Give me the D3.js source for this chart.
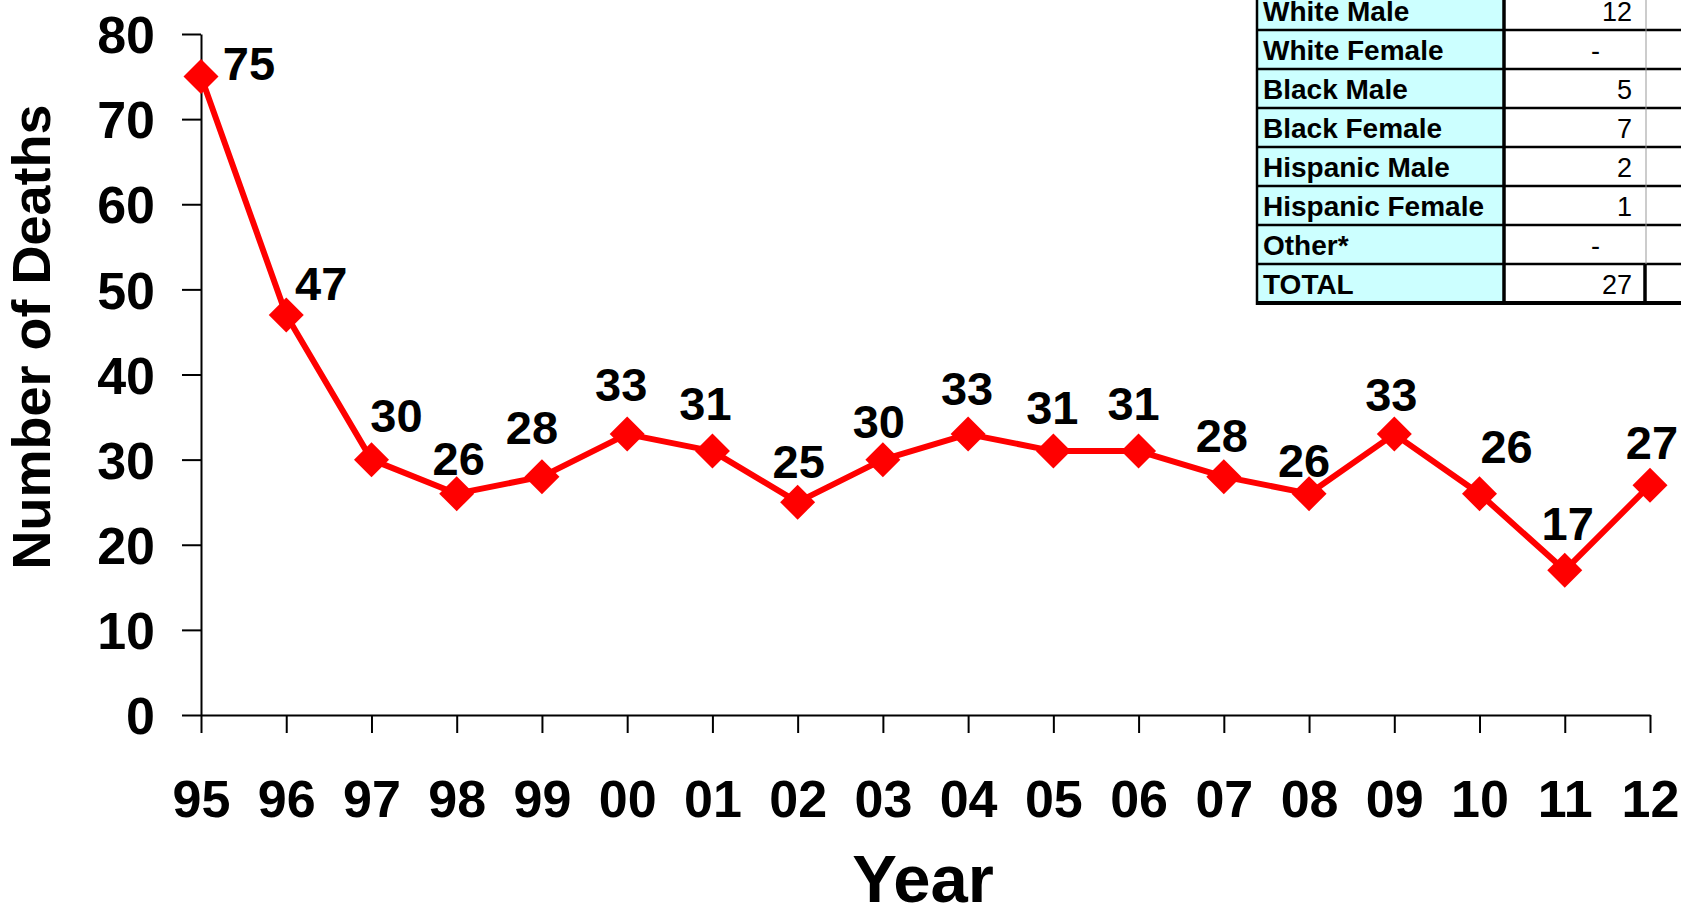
<!DOCTYPE html>
<html>
<head>
<meta charset="utf-8">
<script src="https://cdn.jsdelivr.net/npm/d3@7"></script>
<style>
  html, body { margin: 0; padding: 0; background: #fff; }
  svg { display: block; font-family: "Liberation Sans", Arial, sans-serif; }
</style>
</head>
<body>
<svg id="chart" width="1681" height="906"></svg>
<script>
// Annual number of deaths, 1995–2012
const years  = ["95","96","97","98","99","00","01","02","03","04","05","06","07","08","09","10","11","12"];
const deaths = [75, 47, 30, 26, 28, 33, 31, 25, 30, 33, 31, 31, 28, 26, 33, 26, 17, 27];
const yTicks = [0, 10, 20, 30, 40, 50, 60, 70, 80];

// Label nudges [dx, dy] relative to each point (label centre x, baseline y)
const labelNudge = [[48,3],[35,-15],[25,-28],[2,-19],[-10,-33],[-6,-33],[-7,-31],[1,-24],[-4,-22],
                    [-1,-29],[-1,-27],[-5,-31],[-2,-25],[-5,-17],[-3,-23],[27,-31],[3,-30],[2,-26]];

// Breakdown table for the latest year
const tableGroups = ["White Male","White Female","Black Male","Black Female","Hispanic Male","Hispanic Female","Other*","TOTAL"];
const tableCounts = [12, null, 5, 7, 2, 1, null, 27];

const svg = d3.select("#chart");

const x = d3.scalePoint().domain(years).range([201, 1650]);
const y = d3.scaleLinear().domain([0, 80]).range([715, 34]);

// Y axis
const gy = svg.append("g").attr("transform", "translate(201,0)")
  .call(d3.axisLeft(y).tickValues(yTicks).tickSize(19).tickSizeOuter(0).tickPadding(27));
gy.selectAll("path, line").attr("stroke", "#000").attr("stroke-width", 2);
gy.selectAll("text").attr("dy", "0.36em").attr("fill", "#000")
  .style("font-size", "52px").style("font-weight", "bold");

// X axis
const gx = svg.append("g").attr("transform", "translate(0,715)")
  .call(d3.axisBottom(x).tickSize(18).tickSizeOuter(0));
gx.selectAll("path, line").attr("stroke", "#000").attr("stroke-width", 2);
gx.selectAll("text").attr("y", 102).attr("dy", 0).attr("fill", "#000")
  .style("font-size", "52px").style("font-weight", "bold");

// Axis titles
svg.append("text")
  .attr("transform", "translate(50,337) rotate(-90)")
  .attr("text-anchor", "middle")
  .style("font-size", "54px").style("font-weight", "bold")
  .text("Number of Deaths");

svg.append("text")
  .attr("x", 923).attr("y", 902)
  .attr("text-anchor", "middle")
  .style("font-size", "67px").style("font-weight", "bold")
  .text("Year");

// Series line
const pts = years.map((yr, i) => ({ yr, v: deaths[i], i }));
svg.append("path")
  .datum(pts)
  .attr("fill", "none")
  .attr("stroke", "#ff0000")
  .attr("stroke-width", 6)
  .attr("stroke-linejoin", "round")
  .attr("d", d3.line().x(d => x(d.yr)).y(d => y(d.v)));

// Diamond markers
svg.append("g").selectAll("path")
  .data(pts)
  .join("path")
  .attr("transform", d => `translate(${x(d.yr)},${y(d.v)})`)
  .attr("d", "M0,-17.5L17.5,0L0,17.5L-17.5,0Z")
  .attr("fill", "#ff0000");

// Value labels
svg.append("g").selectAll("text")
  .data(pts)
  .join("text")
  .attr("x", d => x(d.yr) + labelNudge[d.i][0])
  .attr("y", d => y(d.v) + labelNudge[d.i][1])
  .attr("text-anchor", "middle")
  .style("font-size", "47px").style("font-weight", "bold")
  .text(d => d.v);

// Breakdown table
const rowH = 39, tableBottom = 303;
const tableTop = tableBottom - rowH * tableGroups.length;
const colX = [1257, 1504, 1646, 1700];
const tbl = svg.append("g");

tableGroups.forEach((g, i) => {
  const top = tableTop + i * rowH;
  tbl.append("rect").attr("x", colX[0]).attr("y", top).attr("width", colX[1] - colX[0]).attr("height", rowH).attr("fill", "#ccffff");
  tbl.append("rect").attr("x", colX[1]).attr("y", top).attr("width", colX[3] - colX[1]).attr("height", rowH).attr("fill", "#fff");
  tbl.append("text")
    .attr("x", colX[0] + 6).attr("y", top + rowH / 2 + 10.5)
    .style("font-size", "28px").style("font-weight", "bold")
    .text(g);
  const c = tableCounts[i];
  tbl.append("text")
    .attr("x", c == null ? 1600 : 1632).attr("y", top + rowH / 2 + 10.5)
    .attr("text-anchor", "end")
    .style("font-size", "27px")
    .text(c == null ? "-" : c);
});

// Grid lines
for (let i = 1; i <= tableGroups.length; i++) {
  const yy = tableTop + i * rowH;
  tbl.append("line").attr("x1", colX[0] - 1).attr("x2", colX[3]).attr("y1", yy).attr("y2", yy)
    .attr("stroke", "#000").attr("stroke-width", i === tableGroups.length ? 4 : 2.5);
}
tbl.append("line").attr("x1", colX[0]).attr("x2", colX[0]).attr("y1", tableTop).attr("y2", tableBottom + 2)
  .attr("stroke", "#000").attr("stroke-width", 2.5);
tbl.append("line").attr("x1", colX[1]).attr("x2", colX[1]).attr("y1", tableTop).attr("y2", tableBottom + 2)
  .attr("stroke", "#000").attr("stroke-width", 3.5);
tbl.append("line").attr("x1", colX[2]).attr("x2", colX[2]).attr("y1", tableTop).attr("y2", tableBottom - rowH)
  .attr("stroke", "#999").attr("stroke-width", 1);
tbl.append("line").attr("x1", colX[2] - 1).attr("x2", colX[2] - 1).attr("y1", tableBottom - rowH).attr("y2", tableBottom + 2)
  .attr("stroke", "#000").attr("stroke-width", 3.5);
</script>
</body>
</html>
